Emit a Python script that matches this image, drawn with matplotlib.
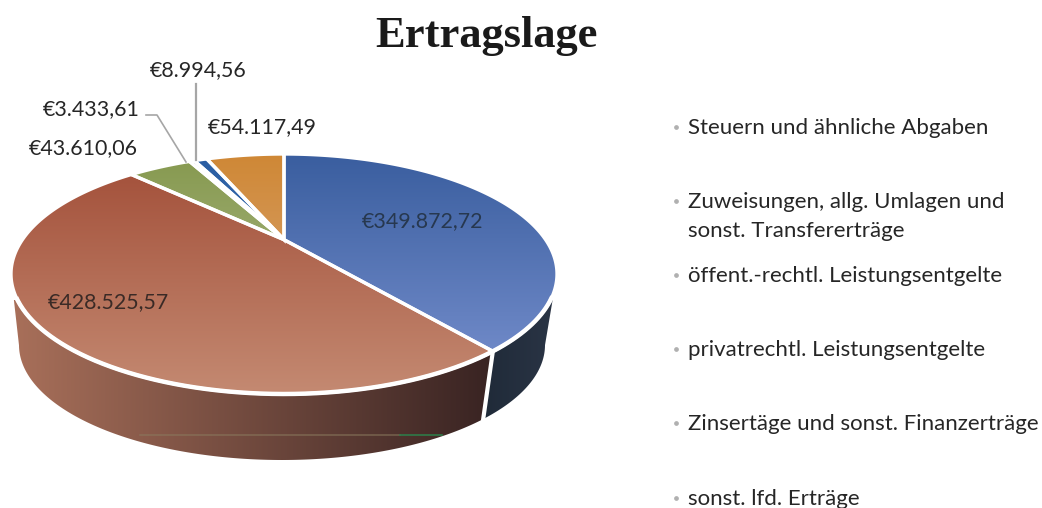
import matplotlib
matplotlib.use('Agg')
import matplotlib.pyplot as plt
import numpy as np
from matplotlib.patches import Polygon

categories = ['Steuern und ähnliche Abgaben',
              'Zuweisungen, allg. Umlagen und\nsonst. Transfererträge',
              'öffent.-rechtl. Leistungsentgelte',
              'privatrechtl. Leistungsentgelte',
              'Zinsertäge und sonst. Finanzerträge',
              'sonst. lfd. Erträge']
values = [349872.72, 428525.57, 43610.06, 3433.61, 8994.56, 54117.49]

# top and bottom colour of each slice
top_colors = ['#3a5e9f', '#a24e38', '#86994f', '#6f5a96', '#2a5ea2', '#cf8836']
low_colors = ['#7a92d0', '#c48a72', '#b9c39a', '#8a78b0', '#4f7fc0', '#dcae88']

label_pos = [(423, 221), (108, 302), (83, 148), (91, 109), (198, 70), (262, 127)]
label_col = ['#27384f', '#3a2a26', '#262626', '#262626', '#262626', '#262626']
legend_y = [128, 216.5, 276, 350, 424, 499]
bullet_y = [127, 201, 275, 349, 423, 498]

CX, CY, RX, RY = 284, 274, 273, 120      # top ellipse
BX, BY, BRX, BRY = 282, 345, 263, 115    # bottom ellipse
TILT = 0.286                             # apex sits above the ellipse centre


def disc(theta):
    # clockwise from 12 o'clock, pushed back for the perspective
    x, y = np.sin(theta), np.cos(theta)
    d = 1 + TILT * y
    return x * np.sqrt(1 - TILT ** 2) / d, (y + TILT) / d


def gradient(ax, poly, c1, c2, extent, horizontal=False):
    rgb1 = np.array(matplotlib.colors.to_rgb(c1))
    rgb2 = np.array(matplotlib.colors.to_rgb(c2))
    t = np.linspace(0, 1, 256)[:, None]
    img = (rgb1 * (1 - t) + rgb2 * t)[:, None, :]
    if horizontal:
        img = img.transpose(1, 0, 2)
    im = ax.imshow(img, extent=extent, origin='upper', aspect='auto', zorder=1, interpolation='bilinear')
    im.set_clip_path(Polygon(poly, closed=True, transform=ax.transData))


def fmt(v):
    return '€' + f'{v:,.2f}'.replace(',', '#').replace('.', ',').replace('#', '.')


fig = plt.figure(figsize=(10.42, 5.08), dpi=100)
ax = fig.add_axes([0, 0, 1, 1])

edges = np.radians(np.concatenate([[0], np.cumsum(values)]) / sum(values) * 360)

# side wall, only the part facing the viewer
side_stops = [('#1f2a38', '#2b3546', 0), ('#a9705a', '#382322', 1)]
for c1, c2, i in side_stops:
    th = np.linspace(edges[i], edges[i + 1], 300)
    nx, ny = disc(th)
    keep = ny <= 0
    top = np.column_stack([CX + RX * nx[keep], CY - RY * ny[keep]])
    low = np.column_stack([BX + BRX * nx[keep], BY - BRY * ny[keep]])
    poly = np.vstack([top, low[::-1]])
    if i == 1:
        gradient(ax, poly, c1, c2, (10, 495, 470, 300), horizontal=True)
        gap = (top[0], low[0])
    else:
        gradient(ax, poly, c1, c2, (480, 560, 470, 300), horizontal=True)
ax.plot([gap[0][0], gap[1][0]], [gap[0][1], gap[1][1]], color='white', lw=3, zorder=2)

# top face
apex = (CX, CY - RY * TILT)
front = []
for i in range(len(values)):
    th = np.linspace(edges[i], edges[i + 1], 200)
    nx, ny = disc(th)
    arc = np.column_stack([CX + RX * nx, CY - RY * ny])
    poly = np.vstack([[apex], arc])
    gradient(ax, poly, top_colors[i], low_colors[i], (0, 600, 395, 155))
    ax.add_patch(Polygon(poly, closed=True, fill=False, edgecolor='white', lw=2.4, zorder=3))
    front.append(arc[ny <= -0.2])
rim = np.vstack(front[:2])
ax.plot(rim[:, 0], rim[:, 1], color='white', lw=3.2, zorder=3)

# scanner streak on the wall
ax.plot([140, 400], [435, 435], color='#8a7a5e', lw=1.2, alpha=0.6, zorder=2)
ax.plot([400, 442], [435, 435], color='#2f7a48', lw=1.2, zorder=2)

# data labels and leader lines
for v, pos, col in zip(values, label_pos, label_col):
    ax.text(pos[0], pos[1], fmt(v), color=col, fontsize=15.4, family='Lato',
            ha='center', va='center', zorder=5)
ax.plot([146, 157, 186], [115, 115, 162], color='#a6a6a6', lw=1.2, zorder=4)
ax.plot([196, 196], [84, 160], color='#a6a6a6', lw=1.6, zorder=4)

ax.text(486, 36, 'Ertragslage', fontsize=32, fontweight='bold', family='Liberation Serif',
        color='#1a1a1a', ha='center', va='center')

# legend keeps only grey bullets
for name, y, by in zip(categories, legend_y, bullet_y):
    ax.plot(676, by, marker='o', ms=2.4, color='#b0b0b0')
    ax.text(688, y, name, fontsize=16, family='Lato', color='#262626', ha='left', va='center',
            linespacing=1.52)

ax.set_xlim(0, 1042)
ax.set_ylim(508, 0)
ax.axis('off')
fig.savefig('out.png', dpi=100)
